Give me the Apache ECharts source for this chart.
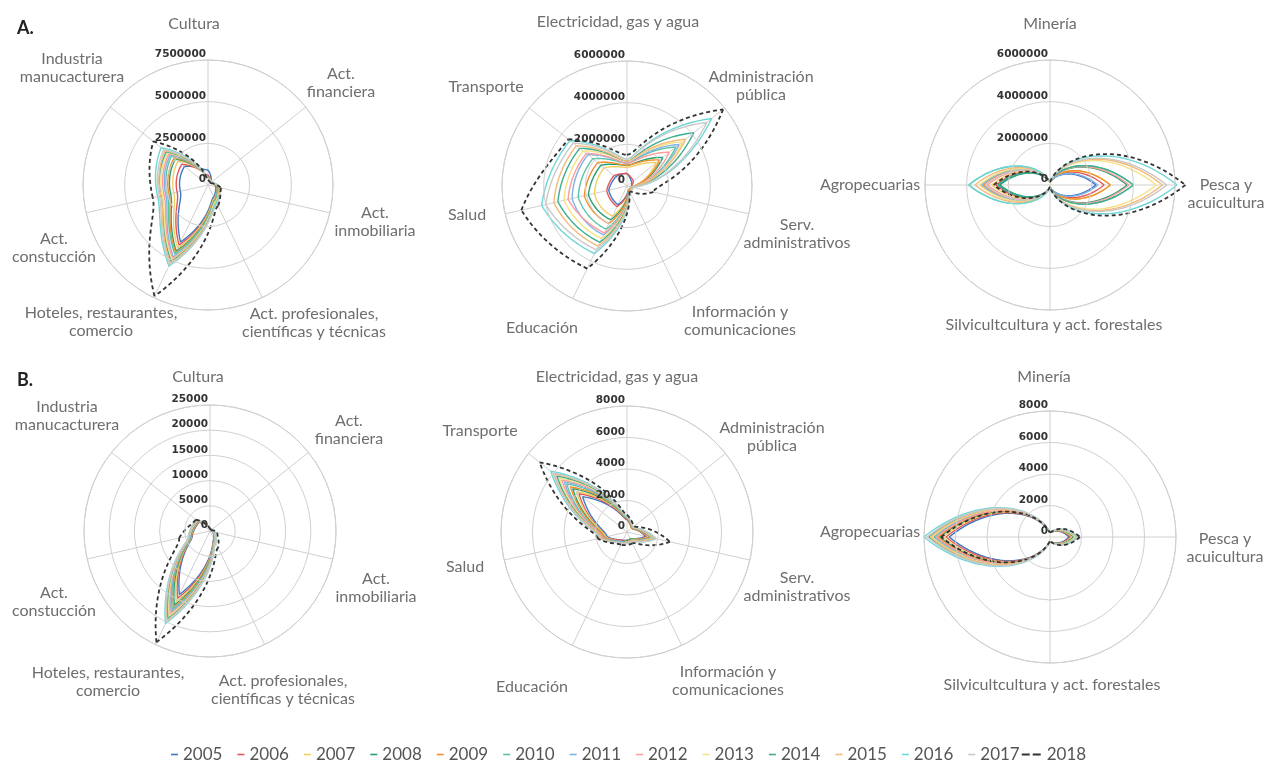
<!DOCTYPE html>
<html><head><meta charset="utf-8">
<script src="https://cdn.jsdelivr.net/npm/echarts@6/dist/echarts.min.js"></script>
<style>html,body{margin:0;padding:0;background:#fff}#c{width:1268px;height:762px}</style>
</head><body><div id="c"></div>
<script>
// ---------- data ----------
const years = ['2005','2006','2007','2008','2009','2010','2011','2012','2013','2014','2015','2016','2017','2018'];
const yearColors = ['#3f78c1','#e15759','#f1ce63','#2a9d74','#f28e2b','#59c3a6','#7fb2e5','#ff9d9a','#f4e285','#3cae8f','#f5b97a','#6fd6d6','#c9c9c9','#333333'];

const catsGroup1 = ['Cultura','Act.\nfinanciera','Act.\ninmobiliaria','Act. profesionales,\ncientíficas y técnicas','Hoteles, restaurantes,\ncomercio','Act.\nconstucción','Industria\nmanucacturera'];
const catsGroup2 = ['Electricidad, gas y agua','Administración\npública','Serv.\nadministrativos','Información y\ncomunicaciones','Educación','Salud','Transporte'];
const catsGroup3 = ['Minería','Pesca y\nacuicultura','Silvicultcultura y act. forestales','Agropecuarias'];

const ticksA1 = [0, 2500000, 5000000, 7500000];
const ticksA2 = [0, 2000000, 4000000, 6000000];
const ticksA3 = [0, 2000000, 4000000, 6000000];
const ticksB1 = [0, 5000, 10000, 15000, 20000, 25000];
const ticksB2 = [0, 2000, 4000, 6000, 8000];
const ticksB3 = [0, 2000, 4000, 6000, 8000];

// rows = years 2005..2018, columns = categories of the group
const valsA1 = [
 [900000, 300000, 500000, 800000, 3800000, 1700000, 1800000],
 [600000, 300000, 500000, 900000, 4000000, 1900000, 2000000],
 [500000, 300000, 600000, 900000, 4200000, 2100000, 2300000],
 [500000, 300000, 600000, 1000000, 4400000, 2300000, 2500000],
 [500000, 300000, 600000, 1000000, 4500000, 2400000, 2600000],
 [400000, 300000, 600000, 1000000, 4600000, 2500000, 2800000],
 [400000, 300000, 700000, 1100000, 4800000, 2600000, 2900000],
 [400000, 300000, 700000, 1100000, 4900000, 2700000, 3000000],
 [400000, 300000, 700000, 1100000, 5000000, 2800000, 3100000],
 [400000, 300000, 700000, 1200000, 5100000, 2900000, 3200000],
 [400000, 300000, 700000, 1200000, 5200000, 2900000, 3300000],
 [400000, 300000, 800000, 1200000, 5400000, 3100000, 3600000],
 [400000, 300000, 800000, 1300000, 5300000, 3000000, 3400000],
 [300000, 200000, 800000, 1400000, 7400000, 3400000, 4200000]
];
const valsA2 = [
 [600000, 300000, 200000, 200000, 1000000, 900000, 700000],
 [600000, 400000, 200000, 200000, 1100000, 1000000, 800000],
 [900000, 1800000, 200000, 200000, 1600000, 1600000, 1400000],
 [1000000, 2200000, 200000, 200000, 1800000, 1900000, 1600000],
 [1000000, 2000000, 200000, 200000, 2000000, 2100000, 1800000],
 [1100000, 3000000, 200000, 300000, 2300000, 2400000, 2100000],
 [1100000, 3200000, 200000, 300000, 2600000, 2700000, 2400000],
 [1100000, 2600000, 200000, 300000, 2500000, 2900000, 2500000],
 [1200000, 3400000, 200000, 300000, 2800000, 3100000, 2700000],
 [1200000, 4100000, 200000, 300000, 3000000, 3400000, 2900000],
 [1200000, 3600000, 200000, 300000, 3200000, 3600000, 3100000],
 [1300000, 5200000, 300000, 300000, 3600000, 4200000, 3500000],
 [1300000, 4900000, 300000, 300000, 3400000, 4000000, 3300000],
 [1500000, 5900000, 1300000, 300000, 4400000, 5200000, 3600000]
];
const valsA3 = [
 [150000, 2200000, 100000, 2500000],
 [150000, 2600000, 100000, 2600000],
 [150000, 2900000, 100000, 2800000],
 [150000, 3700000, 100000, 2400000],
 [150000, 2900000, 100000, 3200000],
 [150000, 4000000, 100000, 3900000],
 [150000, 2300000, 100000, 3300000],
 [150000, 3800000, 100000, 3000000],
 [150000, 5100000, 100000, 3400000],
 [150000, 4000000, 100000, 2500000],
 [150000, 5400000, 100000, 3600000],
 [150000, 6100000, 100000, 3900000],
 [150000, 5600000, 100000, 3100000],
 [150000, 6500000, 100000, 2700000]
];
const valsB1 = [
 [500, 200, 600, 1800, 14000, 3600, 2800],
 [500, 200, 700, 1900, 14800, 3700, 2900],
 [500, 200, 700, 2000, 15500, 3800, 3000],
 [600, 200, 800, 2100, 16300, 3900, 3100],
 [600, 200, 800, 2200, 16800, 4000, 3100],
 [600, 200, 800, 2200, 17300, 4000, 3200],
 [600, 200, 900, 2300, 17800, 4100, 3200],
 [600, 300, 900, 2400, 18300, 4200, 3300],
 [600, 300, 900, 2400, 18800, 4200, 3300],
 [600, 300, 1000, 2500, 19300, 4300, 3400],
 [600, 300, 1000, 2500, 19700, 4300, 3400],
 [600, 300, 1000, 2600, 20400, 4400, 3500],
 [600, 300, 1000, 2600, 20000, 4400, 3500],
 [500, 300, 1500, 3700, 24500, 6300, 3600]
];
const valsB2 = [
 [800, 400, 1200, 500, 600, 1300, 3600],
 [800, 400, 1300, 500, 600, 1400, 3900],
 [900, 400, 1400, 500, 700, 1400, 4100],
 [900, 400, 1500, 500, 700, 1500, 4400],
 [900, 400, 1500, 600, 700, 1500, 4600],
 [900, 500, 1600, 600, 700, 1600, 4900],
 [1000, 500, 1600, 600, 700, 1600, 5100],
 [1000, 500, 1700, 600, 800, 1600, 5300],
 [1000, 500, 1700, 600, 800, 1700, 5500],
 [1000, 500, 1800, 600, 800, 1700, 5700],
 [1000, 500, 1800, 600, 800, 1700, 5900],
 [1000, 500, 1900, 700, 800, 1800, 6200],
 [1000, 500, 1900, 700, 800, 1800, 6000],
 [1100, 600, 2800, 800, 900, 1900, 7100]
];
const valsB3 = [
 [300, 1200, 300, 6400],
 [300, 1300, 300, 6600],
 [300, 1400, 300, 6800],
 [300, 1500, 300, 7000],
 [300, 1600, 300, 7100],
 [300, 1600, 300, 7400],
 [300, 1700, 300, 7300],
 [300, 1700, 300, 7200],
 [300, 1600, 300, 7500],
 [300, 1700, 300, 7700],
 [300, 1800, 300, 7600],
 [300, 1800, 300, 8000],
 [300, 1700, 300, 7800],
 [300, 1900, 300, 6900]
];

// ---------- layout (positions / styles only) ----------
// label offsets = centre of each category label relative to the polar centre, px
const panels = [
 {cats: catsGroup1, ticks: ticksA1, vals: valsA1, center: [208, 185], radius: 125,
  labelOffsets: [[-14,-161],[133,-102],[167,37],[106,138],[-107,137],[-154,63],[-136,-117]]},
 {cats: catsGroup2, ticks: ticksA2, vals: valsA2, center: [627, 186], radius: 125,
  labelOffsets: [[-9,-164],[134,-100],[170,48],[113,135],[-85,142],[-160,29],[-141,-99]]},
 {cats: catsGroup3, ticks: ticksA3, vals: valsA3, center: [1050, 185], radius: 125,
  labelOffsets: [[0,-161],[176,9],[4,140],[-180,0]]},
 {cats: catsGroup1, ticks: ticksB1, vals: valsB1, center: [210, 531], radius: 126,
  labelOffsets: [[-12,-154],[139,-101],[166,57],[73,159],[-102,151],[-156,71],[-143,-115]]},
 {cats: catsGroup2, ticks: ticksB2, vals: valsB2, center: [627, 532], radius: 126,
  labelOffsets: [[-10,-155],[145,-95],[170,55],[101,149],[-95,155],[-162,35],[-147,-101]]},
 {cats: catsGroup3, ticks: ticksB3, vals: valsB3, center: [1050, 537], radius: 126,
  labelOffsets: [[-6,-160],[175,11],[2,148],[-180,-5]]}
];

const labelColor = '#6e6e6e';
const gridColor = '#d0d0d0';

function makeRender(dashed, lw) {
  return function (params, api) {
    const r0 = api.value(0), a0 = api.value(1), r1 = api.value(2), a1 = api.value(3);
    const pts = [];
    const N = 36;
    for (let k = 0; k <= N; k++) {
      const t = k / N;
      const a = a0 + (a1 - a0) * t;
      const r = r0 >= r1 ? r1 + (r0 - r1) * (1 - t) * (1 - t) : r0 + (r1 - r0) * t * t;
      pts.push(api.coord([r, a]));
    }
    return {
      type: 'polyline',
      shape: {points: pts},
      style: {stroke: api.visual('color'), fill: null, lineWidth: lw, lineDash: dashed ? [4, 3] : null}
    };
  };
}

function buildLabels(p) {
  const rich = {};
  const strs = p.cats.map((cat, k) => {
    const off = p.labelOffsets[k];
    const dx = off[0], dy = off[1];
    const pl = dx > 0 ? 2 * dx : 0, pr = dx < 0 ? -2 * dx : 0;
    const pt = dy > 0 ? 2 * dy : 0, pb = dy < 0 ? -2 * dy : 0;
    const lines = cat.split('\n');
    return lines.map((ln, j) => {
      const key = 'k' + k + 'l' + j;
      rich[key] = {
        fontSize: 16, fontFamily: 'Lato', color: labelColor, height: 18, align: 'center',
        padding: [j === 0 ? pt : 0, pr, j === lines.length - 1 ? pb : 0, pl]
      };
      return '{' + key + '|' + ln + '}';
    }).join('\n');
  });
  return {rich, strs};
}

const polar = panels.map(p => ({center: p.center, radius: p.radius}));
const angleAxis = panels.map((p, i) => {
  const lab = buildLabels(p);
  return {
    polarIndex: i, type: 'value', min: 0, max: p.cats.length, interval: 1,
    startAngle: 90, clockwise: true,
    axisLine: {show: true, lineStyle: {color: gridColor, width: 1}},
    axisTick: {show: false},
    splitLine: {show: true, lineStyle: {color: gridColor, width: 1}},
    axisLabel: {
      margin: -p.radius, color: labelColor, fontSize: 16, fontFamily: 'Lato',
      formatter: v => (v < p.cats.length ? lab.strs[v] : ''),
      rich: lab.rich
    },
    z: 1
  };
});
const radiusAxis = panels.map((p, i) => ({
  polarIndex: i, type: 'value', min: 0, max: p.ticks[p.ticks.length - 1], interval: p.ticks[1] - p.ticks[0],
  axisLine: {show: false}, axisTick: {show: false},
  splitLine: {show: true, lineStyle: {color: gridColor, width: 1}},
  axisLabel: {show: true, color: '#333', fontSize: 10.5, fontWeight: 'bold', fontFamily: 'DejaVu Sans', margin: 2,
    verticalAlign: 'bottom', formatter: v => String(v)},
  z: 5
}));

const series = [];
panels.forEach((p, pi) => {
  years.forEach((y, yi) => {
    const vals = p.vals[yi];
    const n = vals.length;
    const segs = vals.map((v, k) => [v, k, vals[(k + 1) % n], k + 1]);
    const last = yi === years.length - 1;
    series.push({
      type: 'custom', name: y, coordinateSystem: 'polar', polarIndex: pi,
      data: segs, silent: true,
      itemStyle: {color: yearColors[yi]},
      renderItem: makeRender(last, last ? 1.8 : 1.4)
    });
  });
});

const solidIcon = 'path://M0,0M20,4M13,1.2H20V2.8H13Z';
const dashIcon = 'path://M0,0M20,4M0,1H8V3H0ZM11,1H19V3H11Z';

const option = {
  backgroundColor: '#fff',
  animation: false,
  title: [
    {text: 'A.', left: 12, top: 14, textStyle: {fontSize: 18, fontWeight: 'bold', color: '#222', fontFamily: 'Lato'}},
    {text: 'B.', left: 12, top: 366, textStyle: {fontSize: 18, fontWeight: 'bold', color: '#222', fontFamily: 'Lato'}}
  ],
  polar, angleAxis, radiusAxis,
  legend: {
    left: 153, top: 741, itemWidth: 20, itemHeight: 4, itemGap: 2,
    textStyle: {fontSize: 17, color: '#555', fontFamily: 'Lato'},
    data: years.map((y, i) => ({name: y, icon: i === years.length - 1 ? dashIcon : solidIcon}))
  },
  series
};
const chart = echarts.init(document.getElementById('c'), null, {renderer: 'canvas'});
chart.setOption(option);
</script></body></html>
